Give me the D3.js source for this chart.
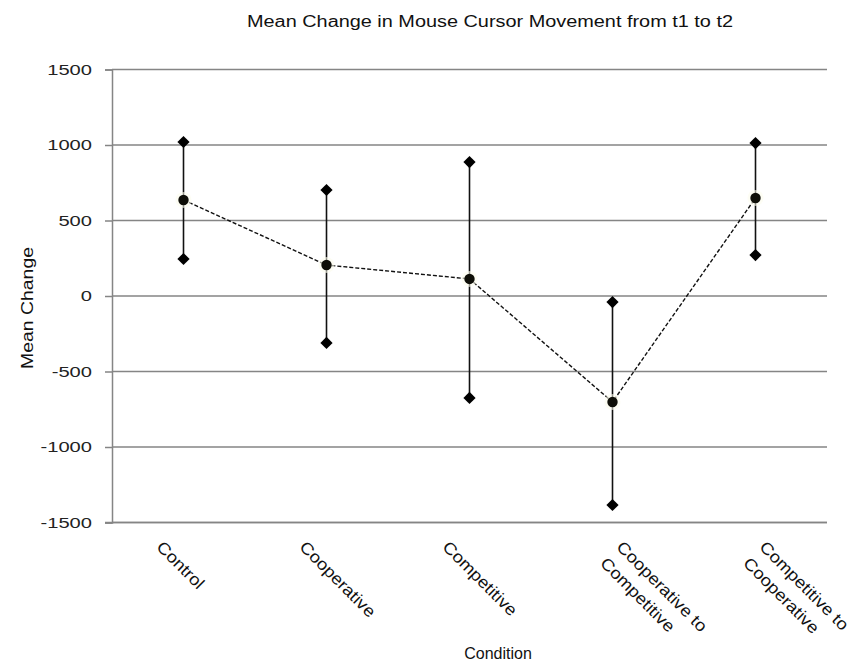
<!DOCTYPE html>
<html>
<head>
<meta charset="utf-8">
<script src="https://cdn.jsdelivr.net/npm/d3@7"></script>
<style>
  body { margin: 0; background: #fff; }
  svg { font-family: "Liberation Sans", Arial, sans-serif; }
</style>
</head>
<body>
<div id="chart"></div>
<script>
const categories = ["Control", "Cooperative", "Competitive", "Cooperative to Competitive", "Competitive to Cooperative"];
const labelLines = [["Control"], ["Cooperative"], ["Competitive"], ["Cooperative to", "Competitive"], ["Competitive to", "Cooperative"]];
const means = [636, 205, 113, -702, 649];
const upper = [1020, 702, 887, -40, 1013];
const lower = [245, -311, -675, -1384, 271];
const yTicks = [-1500, -1000, -500, 0, 500, 1000, 1500];

const width = 867, height = 666;
const plotLeft = 112, plotRight = 827, plotTop = 69.5, plotBottom = 522.5;

const data = categories.map((c, i) => ({
    cat: c, lines: labelLines[i], mean: means[i], hi: upper[i], lo: lower[i]
}));

const svg = d3.select("#chart").append("svg")
    .attr("width", width)
    .attr("height", height);

const x = d3.scaleBand()
    .domain(categories)
    .range([plotLeft, plotRight]);

const y = d3.scaleLinear()
    .domain([-1500, 1500])
    .range([plotBottom, plotTop]);

const cx = d => x(d.cat) + x.bandwidth() / 2;

// grid
svg.append("g")
    .selectAll("line")
    .data(yTicks)
    .enter()
    .append("line")
    .attr("x1", plotLeft)
    .attr("x2", plotRight)
    .attr("y1", d => y(d))
    .attr("y2", d => y(d))
    .attr("stroke", "#858585")
    .attr("stroke-width", 1.5);

// y axis
const yAxis = d3.axisLeft(y)
    .tickValues(yTicks)
    .tickSize(7)
    .tickPadding(13)
    .tickFormat(d => String(d));

const gy = svg.append("g")
    .attr("transform", "translate(" + plotLeft + ",0)")
    .call(yAxis);
gy.select(".domain").attr("stroke", "#858585").attr("stroke-width", 1.5);
gy.selectAll(".tick line").attr("stroke", "#858585").attr("stroke-width", 1.5);
gy.selectAll(".tick text")
    .attr("font-size", 15.5)
    .attr("fill", "#222")
    .attr("font-family", "Liberation Sans, Arial, sans-serif")
    .attr("transform", "scale(1.3,1)")
    .attr("x", -20 / 1.3);

// x axis line
svg.append("line")
    .attr("x1", plotLeft - 7)
    .attr("x2", plotRight)
    .attr("y1", plotBottom)
    .attr("y2", plotBottom)
    .attr("stroke", "#858585")
    .attr("stroke-width", 1.5);

// mean line
const line = d3.line()
    .x(cx)
    .y(d => y(d.mean));

svg.append("path")
    .datum(data)
    .attr("d", line)
    .attr("fill", "none")
    .attr("stroke", "#111")
    .attr("stroke-width", 1.4)
    .attr("stroke-dasharray", "4,2");

// error bars
const bars = svg.append("g")
    .selectAll("g")
    .data(data)
    .enter()
    .append("g");

bars.append("line")
    .attr("x1", cx)
    .attr("x2", cx)
    .attr("y1", d => y(d.hi))
    .attr("y2", d => y(d.lo))
    .attr("stroke", "#111")
    .attr("stroke-width", 1.6);

const diamond = d3.symbol().type(d3.symbolDiamond2).size(95);

bars.selectAll(".end")
    .data(d => [{ x: cx(d), v: d.hi }, { x: cx(d), v: d.lo }])
    .enter()
    .append("path")
    .attr("class", "end")
    .attr("d", diamond)
    .attr("transform", d => "translate(" + d.x + "," + y(d.v) + ")")
    .attr("fill", "#000");

bars.append("circle")
    .attr("cx", cx)
    .attr("cy", d => y(d.mean))
    .attr("r", 8)
    .attr("fill", "#fcfcec")
    .attr("opacity", 0.6);

bars.append("circle")
    .attr("cx", cx)
    .attr("cy", d => y(d.mean))
    .attr("r", 5.2)
    .attr("fill", "#0e0e08");

// category labels
const labels = svg.append("g")
    .selectAll("g")
    .data(data)
    .enter()
    .append("g")
    .attr("transform", d => {
        const ox = d.lines.length > 1 ? 3 : -28;
        return "translate(" + (cx(d) + ox) + ",548) rotate(45)";
    });

labels.selectAll("text")
    .data(d => d.lines)
    .enter()
    .append("text")
    .attr("transform", (d, i) => "translate(0," + (i * 23) + ") scale(1.12,1)")
    .attr("font-size", 16.5)
    .attr("fill", "#111")
    .text(d => d);

// titles
svg.append("text")
    .attr("x", 490)
    .attr("y", 27)
    .attr("text-anchor", "middle")
    .attr("font-size", 16)
    .attr("fill", "#111")
    .attr("textLength", 486)
    .attr("lengthAdjust", "spacingAndGlyphs")
    .text("Mean Change in Mouse Cursor Movement from t1 to t2");

svg.append("text")
    .attr("transform", "translate(33,308) rotate(-90)")
    .attr("text-anchor", "middle")
    .attr("font-size", 16)
    .attr("fill", "#111")
    .attr("textLength", 122)
    .attr("lengthAdjust", "spacingAndGlyphs")
    .text("Mean Change");

svg.append("text")
    .attr("x", 498)
    .attr("y", 659)
    .attr("text-anchor", "middle")
    .attr("font-size", 16)
    .attr("fill", "#111")
    .text("Condition");
</script>
</body>
</html>
